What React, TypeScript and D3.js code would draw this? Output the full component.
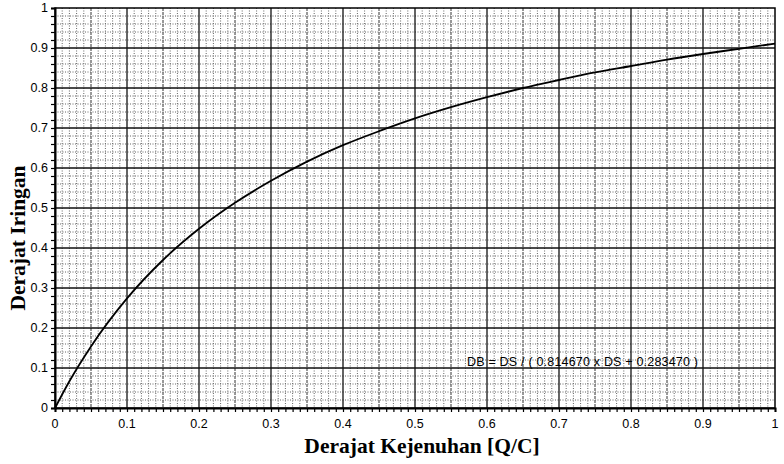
import React, { useEffect, useRef } from 'react';
import * as d3 from 'd3';

// values (DS -> DB)
const dsValues = [0, 0.02, 0.05, 0.1, 0.15, 0.2, 0.25, 0.3, 0.35, 0.4, 0.45, 0.5, 0.55, 0.6, 0.65, 0.7, 0.75, 0.8, 0.85, 0.9, 0.95, 1.0];
const dbValues = [0, 0.067, 0.154, 0.274, 0.37, 0.448, 0.513, 0.568, 0.616, 0.657, 0.692, 0.724, 0.752, 0.777, 0.8, 0.82, 0.839, 0.855, 0.871, 0.885, 0.898, 0.911];
const tickLabels = ['0', '0.1', '0.2', '0.3', '0.4', '0.5', '0.6', '0.7', '0.8', '0.9', '1'];
const equation = 'DB = DS / ( 0.814670 x DS + 0.283470 )';

const App = () => {
  const ref = useRef<SVGSVGElement>(null);

  useEffect(() => {
    const svg = d3.select(ref.current);
    svg.selectAll('*').remove();

    const width = 784;
    const height = 464;
    const left = 55;
    const right = 775;
    const top = 8;
    const bottom = 408;

    const x = d3.scaleLinear().domain([0, 1]).range([left, right]);
    const y = d3.scaleLinear().domain([0, 1]).range([bottom, top]);

    svg.append('rect').attr('width', width).attr('height', height).attr('fill', '#fff');

    // minor grid (graph paper)
    const g = svg.append('g');
    g.selectAll('.vx')
      .data(d3.range(1, 100).filter((i) => i % 10 !== 0))
      .enter()
      .append('line')
      .attr('x1', (i) => x(i / 100))
      .attr('x2', (i) => x(i / 100))
      .attr('y1', top)
      .attr('y2', bottom)
      .attr('stroke', (i) => (i % 5 === 0 ? '#333' : '#666'))
      .attr('stroke-width', 1)
      .attr('stroke-dasharray', (i) => (i % 5 === 0 ? '3,1' : '1,1.5'));

    g.selectAll('.hy')
      .data(d3.range(1, 50).filter((i) => i % 5 !== 0))
      .enter()
      .append('line')
      .attr('x1', left)
      .attr('x2', right)
      .attr('y1', (i) => y(i / 50))
      .attr('y2', (i) => y(i / 50))
      .attr('stroke', '#666')
      .attr('stroke-width', 1)
      .attr('stroke-dasharray', '1,1.5');

    // major grid
    g.selectAll('.mx')
      .data(d3.range(1, 10))
      .enter()
      .append('line')
      .attr('x1', (i) => x(i / 10))
      .attr('x2', (i) => x(i / 10))
      .attr('y1', top)
      .attr('y2', bottom)
      .attr('stroke', '#111')
      .attr('stroke-width', 1.3);

    g.selectAll('.my')
      .data(d3.range(1, 10))
      .enter()
      .append('line')
      .attr('x1', left)
      .attr('x2', right)
      .attr('y1', (i) => y(i / 10))
      .attr('y2', (i) => y(i / 10))
      .attr('stroke', '#111')
      .attr('stroke-width', 1.3);

    // frame
    svg.append('rect')
      .attr('x', left)
      .attr('y', top)
      .attr('width', right - left)
      .attr('height', bottom - top)
      .attr('fill', 'none')
      .attr('stroke', '#000')
      .attr('stroke-width', 1.5);

    // axes
    const xAxis = d3.axisBottom(x)
      .tickValues(d3.range(0, 101).map((i) => i / 100))
      .tickSize(4)
      .tickFormat(() => '');
    svg.append('g').attr('transform', `translate(0,${bottom})`).call(xAxis)
      .call((s) => s.select('.domain').attr('stroke-width', 2));

    const yAxis = d3.axisLeft(y)
      .tickValues(d3.range(0, 51).map((i) => i / 50))
      .tickSize(4)
      .tickFormat(() => '');
    svg.append('g').attr('transform', `translate(${left},0)`).call(yAxis)
      .call((s) => s.select('.domain').attr('stroke-width', 2));

    svg.selectAll('.tick line').attr('stroke', '#000').attr('stroke-width', 1.2);

    svg.append('g')
      .selectAll('text')
      .data(tickLabels)
      .enter()
      .append('text')
      .attr('x', (d, i) => x(i / 10))
      .attr('y', bottom + 20)
      .attr('text-anchor', 'middle')
      .style('font-family', '"Liberation Sans", Arial, sans-serif')
      .style('font-size', '12.5px')
      .text((d) => d);

    svg.append('g')
      .selectAll('text')
      .data(tickLabels)
      .enter()
      .append('text')
      .attr('x', left - 7)
      .attr('y', (d, i) => y(i / 10))
      .attr('dy', '0.35em')
      .attr('text-anchor', 'end')
      .style('font-family', '"Liberation Sans", Arial, sans-serif')
      .style('font-size', '12.5px')
      .text((d) => d);

    // curve
    const line = d3.line<number>()
      .x((d, i) => x(dsValues[i]))
      .y((d) => y(d))
      .curve(d3.curveMonotoneX);

    svg.append('path')
      .datum(dbValues)
      .attr('d', line)
      .attr('fill', 'none')
      .attr('stroke', '#000')
      .attr('stroke-width', 1.8);

    svg.append('text')
      .attr('x', 467)
      .attr('y', 366)
      .attr('textLength', 231)
      .style('font-family', '"Liberation Sans", Arial, sans-serif')
      .style('font-size', '12.5px')
      .text(equation);

    svg.append('text')
      .attr('x', 422)
      .attr('y', 453)
      .attr('text-anchor', 'middle')
      .style('font-family', '"Liberation Serif", "Times New Roman", serif')
      .style('font-weight', 'bold')
      .style('font-size', '21.5px')
      .text('Derajat Kejenuhan [Q/C]');

    svg.append('text')
      .attr('transform', `translate(25,${238}) rotate(-90)`)
      .attr('text-anchor', 'middle')
      .style('font-family', '"Liberation Serif", "Times New Roman", serif')
      .style('font-weight', 'bold')
      .style('font-size', '21.5px')
      .text('Derajat Iringan');
  }, []);

  return (
    <svg ref={ref} width={784} height={464} style={{ position: 'absolute', left: 0, top: 0 }} />
  );
};

export default App;
